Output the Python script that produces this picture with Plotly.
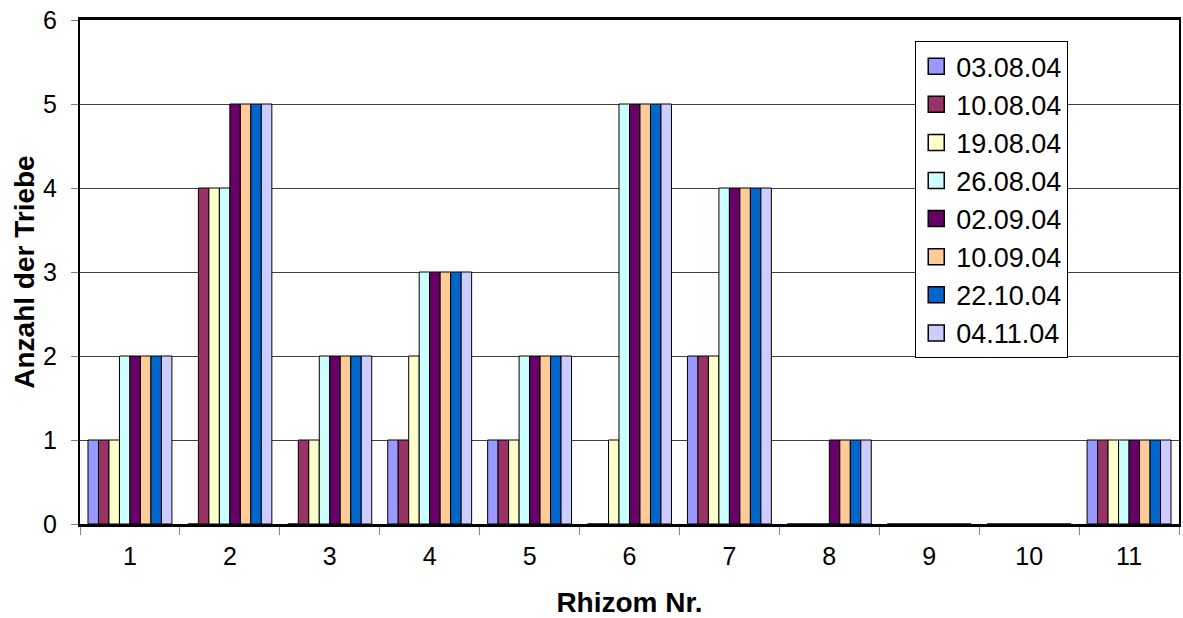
import plotly.graph_objects as go

# Rhizome numbers (x categories)
rhizome = ["1", "2", "3", "4", "5", "6", "7", "8", "9", "10", "11"]

# Survey dates (one series each)
dates = ["03.08.04", "10.08.04", "19.08.04", "26.08.04",
         "02.09.04", "10.09.04", "22.10.04", "04.11.04"]

# Number of shoots per rhizome for each survey date
s_030804 = [1, 0, 0, 1, 1, 0, 2, 0, 0, 0, 1]
s_100804 = [1, 4, 1, 1, 1, 0, 2, 0, 0, 0, 1]
s_190804 = [1, 4, 1, 2, 1, 1, 2, 0, 0, 0, 1]
s_260804 = [2, 4, 2, 3, 2, 5, 4, 0, 0, 0, 1]
s_020904 = [2, 5, 2, 3, 2, 5, 4, 1, 0, 0, 1]
s_100904 = [2, 5, 2, 3, 2, 5, 4, 1, 0, 0, 1]
s_221004 = [2, 5, 2, 3, 2, 5, 4, 1, 0, 0, 1]
s_041104 = [2, 5, 2, 3, 2, 5, 4, 1, 0, 0, 1]

series = [s_030804, s_100804, s_190804, s_260804,
          s_020904, s_100904, s_221004, s_041104]

colors = ["#9999FF", "#993366", "#FFFFCC", "#CCFFFF",
          "#660066", "#FFCC99", "#0066CC", "#CCCCFF"]

FONT = "Arial, Liberation Sans, sans-serif"

fig = go.Figure()
for name, vals, col in zip(dates, series, colors):
    fig.add_trace(go.Bar(
        x=rhizome, y=vals, name=name, legendgroup=name, showlegend=False,
        marker=dict(color=col, line=dict(color="black", width=1)),
    ))
    # legend entry with a larger square swatch
    fig.add_trace(go.Scatter(
        x=[None], y=[None], mode="markers", name=name, legendgroup=name,
        marker=dict(symbol="square", size=16, color=col,
                    line=dict(color="black", width=1.5)),
    ))

fig.update_layout(
    width=1183, height=618,
    margin=dict(l=80, r=2, t=20, b=94),
    paper_bgcolor="white", plot_bgcolor="white",
    font=dict(family=FONT, size=25, color="black"),
    barmode="group", bargap=0.16, bargroupgap=0,
    showlegend=True,
    legend=dict(
        x=0.760, y=0.958, xanchor="left", yanchor="top",
        bgcolor="white", bordercolor="black", borderwidth=1,
        font=dict(family=FONT, size=27, color="black"),
        tracegroupgap=0, itemsizing="trace",
    ),
    xaxis=dict(
        type="category", range=[-0.5, 10.5],
        showline=True, linecolor="black", linewidth=3, mirror=True,
        ticks="outside", tickson="boundaries", ticklen=8, tickcolor="#808080",
        ticklabelstandoff=8,
        showgrid=False,
        tickfont=dict(size=25),
        title=dict(text="<b>Rhizom Nr.</b>", font=dict(size=28), standoff=24),
    ),
    yaxis=dict(
        range=[0, 6], dtick=1, tick0=0,
        showline=True, linecolor="black", linewidth=2, mirror=True,
        ticks="outside", ticklen=7, tickcolor="#808080",
        ticklabelstandoff=9,
        showgrid=True, gridcolor="#404040", gridwidth=1,
        zeroline=False,
        tickfont=dict(size=25),
        title=dict(text="<b>Anzahl der Triebe</b>", font=dict(size=28), standoff=0),
    ),
)

fig.write_html("out.html")
